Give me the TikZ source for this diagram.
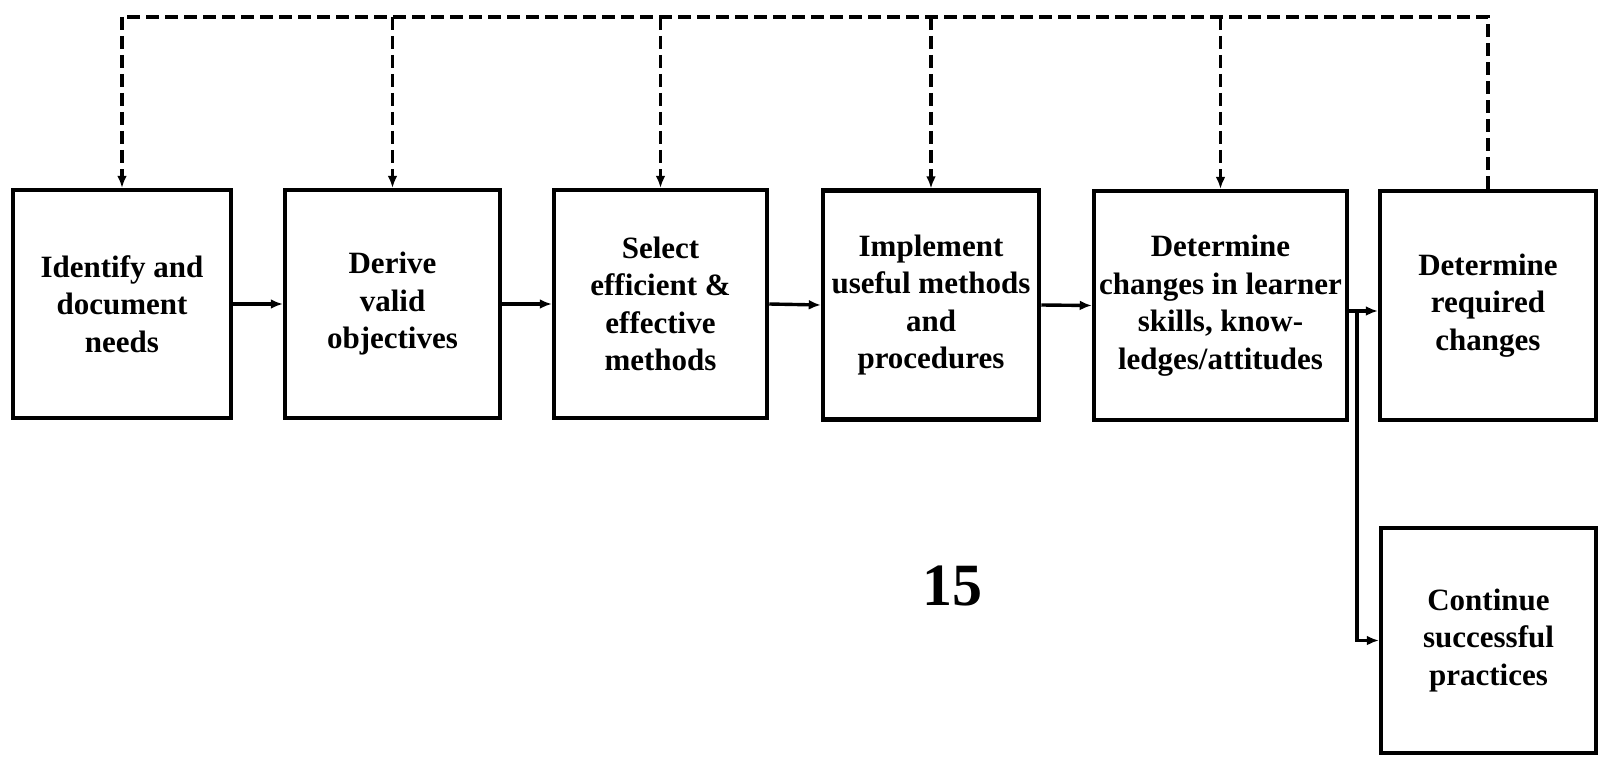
\documentclass[tikz,border=0pt]{standalone}
\usepackage{fontspec}
\setmainfont{Liberation Serif}
\usetikzlibrary{arrows.meta}
\begin{document}
\begin{tikzpicture}[x=1pt,y=-1pt,
  stepbox/.style={draw=black,line width=4.5pt,align=center,inner sep=2pt,
    font=\bfseries\fontsize{31}{37.5}\selectfont},
  flow/.style={line width=3.4pt,-{Latex[length=12pt,width=10pt]}},
  fb/.style={line width=3.4pt,dash pattern=on 13pt off 6pt},
  fbarrow/.style={fb,-{Latex[length=12pt,width=10pt]}}]
\useasboundingbox (0,0) rectangle (1598,757);
\node[stepbox,minimum width=218pt,minimum height=228pt] (a) at (122,304) {Identify and\\document\\needs};
\node[stepbox,minimum width=215pt,minimum height=228pt] (b) at (392.5,304) {Derive\\valid\\objectives};
\node[stepbox,minimum width=213pt,minimum height=228pt] (c) at (660.5,304) {Select\\efficient \&\\effective\\methods};
\node[stepbox,minimum width=216pt,minimum height=229pt] (d) at (931,305) {Implement\\useful methods\\and\\procedures};
\node[stepbox,minimum width=253pt,minimum height=229pt] (e) at (1220.5,305.5) {Determine\\changes in learner\\skills, know-\\ledges/attitudes};
\node[stepbox,minimum width=216pt,minimum height=229pt] (f) at (1488,305.5) {Determine\\required\\changes};
\node[stepbox,minimum width=215pt,minimum height=225pt] (g) at (1488.5,640.5) {Continue\\successful\\practices};
\node[font=\bfseries\fontsize{60}{60}\selectfont] (pg) at (952,586) {15};
% forward flow
\draw[flow] (a.east) -- (b.west);
\draw[flow] (b.east) -- (c.west);
\draw[flow] (c.east) -- (d.west);
\draw[flow] (d.east) -- (e.west);
\coordinate (j) at (1357,311);
\draw[line width=3.4pt] (e.east |- j) -- (j);
\draw[flow] (j) -- (f.west |- j);
\draw[flow] (j) |- (g.west);
% feedback
\coordinate (top) at (122,17);
\draw[fb] (f.north) -- (f.north |- top) -- (top);
\draw[fbarrow] (a.north |- top) -- (a.north);
\draw[fbarrow] (b.north |- top) -- (b.north);
\draw[fbarrow] (c.north |- top) -- (c.north);
\draw[fbarrow] (d.north |- top) -- (d.north);
\draw[fbarrow] (e.north |- top) -- (e.north);
\end{tikzpicture}
\end{document}
